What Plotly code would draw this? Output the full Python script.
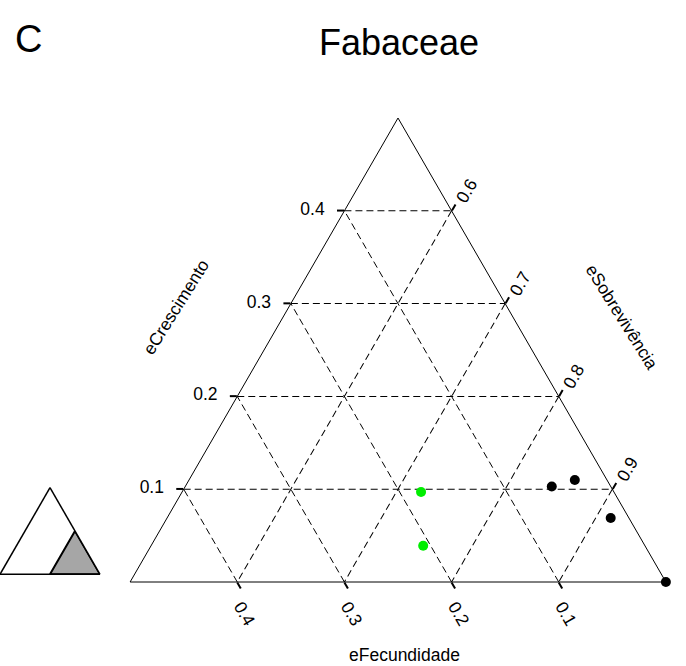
import plotly.graph_objects as go

# Elasticity contributions (proportions summing to 1) for each population
crescimento_verde = [0.097, 0.039]
fecundidade_verde = [0.180, 0.207]
sobrevivencia_verde = [0.723, 0.754]

crescimento_preto = [0.103, 0.110, 0.069, 0.0]
fecundidade_preto = [0.055, 0.030, 0.017, 0.0]
sobrevivencia_preto = [0.842, 0.860, 0.914, 1.0]

# Axis ticks of the zoomed ternary window (eSobrevivência >= 0.5)
ticks_crescimento = [0.1, 0.2, 0.3, 0.4]
ticks_fecundidade = [0.1, 0.2, 0.3, 0.4]
ticks_sobrevivencia = [0.6, 0.7, 0.8, 0.9]
min_crescimento, min_fecundidade, min_sobrevivencia = 0.0, 0.0, 0.5

W, H = 686, 666
FONT = "Liberation Sans, Arial, sans-serif"
NBSP = "\u00a0"

fig = go.Figure()

fig.add_trace(go.Scatterternary(
    a=crescimento_verde, b=fecundidade_verde, c=sobrevivencia_verde,
    mode="markers", marker=dict(color="#00ee00", size=10),
    cliponaxis=False, showlegend=False, subplot="ternary",
))
fig.add_trace(go.Scatterternary(
    a=crescimento_preto, b=fecundidade_preto, c=sobrevivencia_preto,
    mode="markers", marker=dict(color="black", size=10),
    cliponaxis=False, showlegend=False, subplot="ternary",
))

# Small overview triangle: full simplex with the zoomed window shaded
a_max = 1 - min_fecundidade - min_sobrevivencia
b_max = 1 - min_crescimento - min_sobrevivencia
fig.add_trace(go.Scatterternary(
    a=[min_crescimento, a_max, min_crescimento, min_crescimento],
    b=[b_max, min_fecundidade, min_fecundidade, b_max],
    c=[min_sobrevivencia, min_sobrevivencia, 1.0, min_sobrevivencia],
    mode="lines", fill="toself", fillcolor="#a6a6a6",
    line=dict(color="black", width=2), hoverinfo="skip",
    showlegend=False, subplot="ternary2",
))


def axis(ticks, angle, minval, prefix="", suffix=""):
    return dict(
        min=minval, title=dict(text=""),
        tickmode="array", tickvals=ticks,
        ticktext=[f"{prefix}{t:.1f}{suffix}" for t in ticks],
        ticks="outside", ticklen=7, tickwidth=1.5, tickcolor="black",
        tickangle=angle, tickfont=dict(family=FONT, size=17.5, color="black"),
        showline=True, linecolor="black", linewidth=1,
        showgrid=True, gridcolor="black", gridwidth=1, griddash="7px,4px",
    )


def plain_axis():
    return dict(showline=True, linecolor="black", linewidth=1.5,
                showgrid=False, showticklabels=False, ticks="", title=dict(text=""))


title_font = dict(family=FONT, size=17.5, color="black")

fig.update_layout(
    width=W, height=H,
    margin=dict(l=0, r=0, t=0, b=0),
    paper_bgcolor="white",
    ternary=dict(
        domain=dict(x=[130 / W, 666 / W], y=[84 / H, 548 / H]),
        sum=1, bgcolor="white",
        aaxis=axis(ticks_crescimento, 0, min_crescimento, suffix=NBSP * 2),
        baxis=axis(ticks_fecundidade, 60, min_fecundidade),
        caxis=axis(ticks_sobrevivencia, -60, min_sobrevivencia),
    ),
    ternary2=dict(
        domain=dict(x=[0.0, 100 / W], y=[90 / H, 180 / H]),
        sum=1, bgcolor="white",
        aaxis=plain_axis(), baxis=plain_axis(), caxis=plain_axis(),
    ),
    annotations=[
        dict(text="C", x=29 / W, y=1 - 39 / H, xref="paper", yref="paper",
             showarrow=False, xanchor="center", yanchor="middle",
             font=dict(family=FONT, size=38, color="black")),
        dict(text="Fabaceae", x=399 / W, y=1 - 42 / H, xref="paper", yref="paper",
             showarrow=False, xanchor="center", yanchor="middle",
             font=dict(family=FONT, size=36, color="black")),
        dict(text="eCrescimento", x=176 / W, y=1 - 307 / H, xref="paper", yref="paper",
             showarrow=False, xanchor="center", yanchor="middle", textangle=-58,
             font=title_font),
        dict(text="eSobrevivência", x=622 / W, y=1 - 317 / H, xref="paper", yref="paper",
             showarrow=False, xanchor="center", yanchor="middle", textangle=58,
             font=title_font),
        dict(text="eFecundidade", x=404 / W, y=1 - 655 / H, xref="paper", yref="paper",
             showarrow=False, xanchor="center", yanchor="middle",
             font=title_font),
    ],
)

fig.write_html("out.html", config={"displayModeBar": False})
